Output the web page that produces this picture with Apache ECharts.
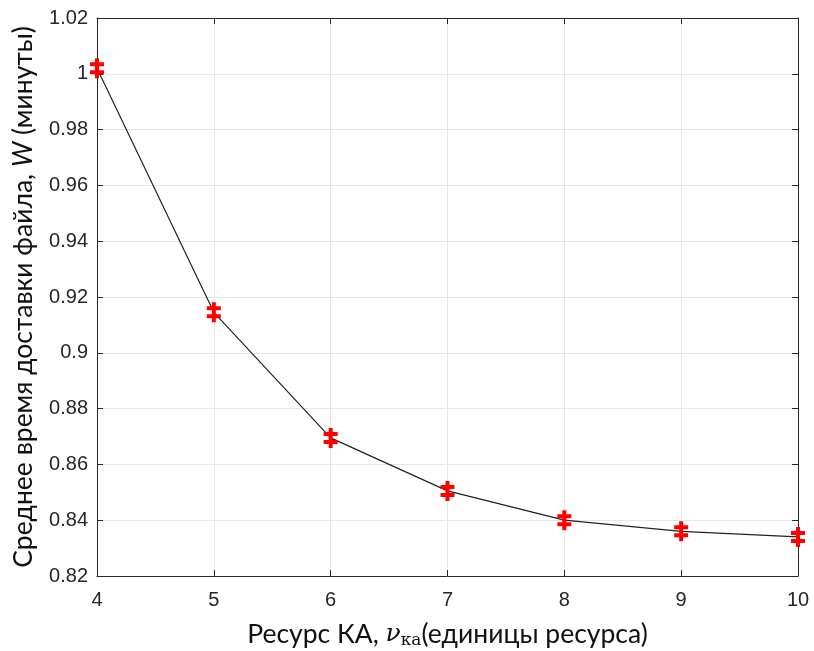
<!DOCTYPE html>
<html>
<head>
<meta charset="utf-8">
<script src="https://cdn.jsdelivr.net/npm/echarts@6/dist/echarts.min.js"></script>
<style>
  html, body { margin: 0; padding: 0; background: #fff; }
  #chart { width: 814px; height: 651px; }
</style>
</head>
<body>
<div id="chart"></div>
<script>
  // ресурс КА и среднее время доставки
  var resource = [4, 5, 6, 7, 8, 9, 10];
  var waitTime = [1.002, 0.9145, 0.8695, 0.8505, 0.8400, 0.8360, 0.8340];
  var yTicks = [0.82, 0.84, 0.86, 0.88, 0.9, 0.92, 0.94, 0.96, 0.98, 1, 1.02];

  // маркер "‡": вертикальная черта и две горизонтальные
  var markPath = 'path://M5,0L9,0L9,20L5,20Z M0,4L14,4L14,8L0,8Z M0,12L14,12L14,16L0,16Z';

  var axisColor = '#262626';
  var tickFont = 'Liberation Sans, Arial, sans-serif';
  var titleFont = 'Lato, Open Sans, sans-serif';

  var chart = echarts.init(document.getElementById('chart'), null, { renderer: 'canvas' });

  var points = resource.map(function (x, i) { return [x, waitTime[i]]; });

  var hiddenAxis = {
    axisLabel: { show: false },
    axisLine: { show: true, lineStyle: { color: axisColor, width: 1 } },
    axisTick: { show: true, inside: true, length: 6, lineStyle: { color: axisColor } },
    splitLine: { show: false }
  };

  chart.setOption({
    animation: false,
    grid: { left: 97, right: 16, top: 18, bottom: 75, show: false, containLabel: false, outerBoundsMode: 'none' },
    xAxis: [
      {
        type: 'value', min: 4, max: 10, interval: 1, position: 'bottom',
        name: '{t|Ресурс КА, }{v|ν}{s|ка}{t|(единицы ресурса)}',
        nameLocation: 'middle', nameGap: 44,
        nameTextStyle: {
          rich: {
            t: { fontFamily: titleFont, fontSize: 26.5, color: '#111' },
            v: { fontFamily: 'DejaVu Serif, serif', fontStyle: 'italic', fontSize: 25, color: '#111' },
            s: { fontFamily: 'DejaVu Serif, serif', fontSize: 17, color: '#111', padding: [12, 0, 0, 0] }
          }
        },
        axisLine: { show: true, lineStyle: { color: axisColor, width: 1 } },
        axisTick: { show: true, inside: true, length: 6, lineStyle: { color: axisColor } },
        axisLabel: { color: axisColor, fontFamily: tickFont, fontSize: 20, margin: 14 },
        splitLine: { show: true, lineStyle: { color: '#e6e6e6', width: 1 } }
      },
      Object.assign({ type: 'value', min: 4, max: 10, interval: 1, position: 'top' }, hiddenAxis)
    ],
    yAxis: [
      {
        type: 'value', min: 0.82, max: 1.02, interval: 0.02, position: 'left',
        name: '{t|Среднее время доставки файла, }{w|W}{t| (минуты)}',
        nameLocation: 'middle', nameGap: 60, nameRotate: 90,
        nameTextStyle: {
          rich: {
            t: { fontFamily: titleFont, fontSize: 26.5, color: '#111' },
            w: { fontFamily: titleFont, fontStyle: 'italic', fontSize: 26.5, color: '#111' }
          }
        },
        axisLine: { show: true, lineStyle: { color: axisColor, width: 1 } },
        axisTick: { show: true, inside: true, length: 6, lineStyle: { color: axisColor } },
        axisLabel: {
          color: axisColor, fontFamily: tickFont, fontSize: 20, margin: 9,
          formatter: function (v) {
            var s = yTicks.find(function (t) { return Math.abs(t - v) < 1e-9; });
            return String(parseFloat((s !== undefined ? s : v).toFixed(2)));
          }
        },
        splitLine: { show: true, lineStyle: { color: '#e6e6e6', width: 1 } }
      },
      Object.assign({ type: 'value', min: 0.82, max: 1.02, interval: 0.02, position: 'right' }, hiddenAxis)
    ],
    series: [
      {
        type: 'line',
        data: points,
        lineStyle: { color: '#222', width: 1.2 },
        symbol: markPath,
        symbolSize: [14, 20],
        symbolKeepAspect: false,
        showAllSymbol: true,
        itemStyle: { color: '#ff0000', borderWidth: 0 },
        z: 5
      }
    ]
  });
</script>
</body>
</html>
